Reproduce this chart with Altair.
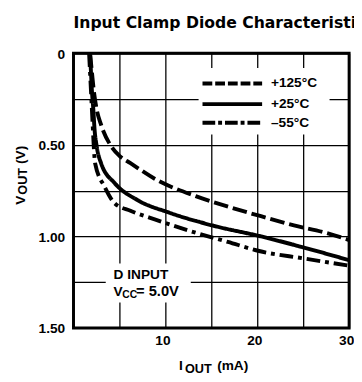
import altair as alt
import pandas as pd

# ---- data ----
SERIES = ["+125°C", "+25°C", "–55°C"]
I_125 = [1.8, 2.0, 2.2, 2.5, 3.0, 4.0, 5.0, 6.2, 9.0, 13.3, 17.0, 20.4, 24.0, 27.4, 30.0]
V_125 = [0.0, 0.1, 0.2, 0.3, 0.39, 0.50, 0.56, 0.60, 0.69, 0.78, 0.84, 0.89, 0.94, 0.98, 1.02]
I_25 = [1.8, 1.9, 2.0, 2.15, 2.3, 2.5, 3.0, 4.5, 6.9, 10.4, 15.1, 20.4, 25.0, 30.0]
V_25 = [0.0, 0.1, 0.2, 0.3, 0.42, 0.50, 0.60, 0.71, 0.80, 0.87, 0.94, 1.00, 1.06, 1.13]
I_M55 = [1.7, 1.8, 1.9, 2.0, 2.1, 2.2, 2.35, 3.4, 4.5, 6.2, 9.0, 13.3, 16.8, 20.2, 25.0, 30.0]
V_M55 = [0.0, 0.1, 0.2, 0.3, 0.4, 0.5, 0.60, 0.73, 0.82, 0.86, 0.91, 0.98, 1.03, 1.08, 1.12, 1.16]
X_TICKS = [0, 5, 10, 15, 20, 25, 30]
Y_TICKS = [0, 0.25, 0.5, 0.75, 1.0, 1.25, 1.5]
TITLE = "Input Clamp Diode Characteristics"
NOTE_1 = "D INPUT"
NOTE_2 = ("V", "CC", "= 5.0V")
X_TITLE = ("I", "OUT", "(mA)")
Y_TITLE = ("V", "OUT", "(V)")

rows = []
for name, xs, ys in [(SERIES[0], I_125, V_125), (SERIES[1], I_25, V_25), (SERIES[2], I_M55, V_M55)]:
    for k, (a, b) in enumerate(zip(xs, ys)):
        rows.append({"series": name, "mA": a, "V": b, "idx": k})
df = pd.DataFrame(rows)
one = pd.DataFrame({"k": [0]})

FONT = "Liberation Sans"
W, H = 282, 281
DASH_LINE = [[15, 5], [1, 0], [14, 5, 4, 5]]
DASH_LEG = [[10, 3], [1, 0], [13, 3, 4, 3]]

axis_common = dict(
    title=None, grid=True, ticks=False, domain=False,
    labelFont=FONT, labelFontSize=14, labelFontWeight="bold", labelColor="black",
    gridColor="black", gridWidth=1.3, gridOpacity=1,
    labelFlush=False, labelOverlap=False,
)

curves = alt.Chart(df).mark_line(strokeWidth=4, color="black", interpolate="monotone", strokeCap="butt").encode(
    x=alt.X("mA:Q", scale=alt.Scale(domain=[0, 30], nice=False, zero=False),
            axis=alt.Axis(values=X_TICKS, labelPadding=6, labelOffset=-3,
                          labelExpr="datum.value % 10 == 0 && datum.value > 0 ? datum.value : ''",
                          **axis_common)),
    y=alt.Y("V:Q", scale=alt.Scale(domain=[0, 1.5], reverse=True, nice=False),
            axis=alt.Axis(values=Y_TICKS, labelPadding=9, labelOffset=1,
                          labelExpr="datum.value == 0 ? '0' : (datum.value == 0.5 || datum.value == 1 || datum.value == 1.5) ? format(datum.value, '.2f') : ''",
                          **axis_common)),
    strokeDash=alt.StrokeDash("series:N", scale=alt.Scale(domain=SERIES, range=DASH_LINE), legend=None),
    order=alt.Order("idx:Q"),
)


def box(x1, x2, y1, y2):
    return alt.Chart(one).mark_rect(fill="white", stroke=None).encode(
        x=alt.value(x1), x2=alt.value(x2), y=alt.value(y1), y2=alt.value(y2))


def txt(s, x, y, size=14, angle=0, font=FONT, baseline="alphabetic"):
    return alt.Chart(one).mark_text(
        text=s, font=font, fontSize=size, fontWeight="bold", color="black",
        align="left", baseline=baseline, angle=angle,
    ).encode(x=alt.value(x), y=alt.value(y))


layers = [box(128, 262, 15, 83), box(33, 120, 215, 255), curves]

# legend
for lab, dash, yy in zip(SERIES, DASH_LEG, [31, 52, 71]):
    layers.append(alt.Chart(one).mark_rule(strokeWidth=4, color="black", strokeDash=dash, strokeCap="butt").encode(
        x=alt.value(132), x2=alt.value(193), y=alt.value(yy)))
    layers.append(txt(lab, 202, yy, 14, baseline="middle"))

# title
layers.append(txt(TITLE, 0, -26, 16, font="DejaVu Sans"))

# annotation
layers.append(txt(NOTE_1, 41, 231))
layers.append(txt(NOTE_2[0], 41, 248))
layers.append(txt(NOTE_2[1], 50, 250, 10.5))
layers.append(txt(NOTE_2[2], 64, 248, 15))

# x-axis title
layers.append(txt(X_TITLE[0], 108, 324))
layers.append(txt(X_TITLE[1], 114, 327, 13))
layers.append(txt(X_TITLE[2], 147, 324))

# y-axis title (rotated)
layers.append(txt(Y_TITLE[0], -50, 155, 14, angle=270))
layers.append(txt(Y_TITLE[1], -48, 144.7, 13, angle=270))
layers.append(txt(Y_TITLE[2], -50, 113.3, 14, angle=270))

chart = alt.layer(*layers).properties(
    width=W, height=H,
    autosize=alt.AutoSizeParams(type="none"),
    padding={"left": 67, "top": 42, "right": 5, "bottom": 51},
    background="white",
).configure_view(stroke="black", strokeWidth=3)

chart.save("out.html", embed_options={"renderer": "svg", "actions": False})
